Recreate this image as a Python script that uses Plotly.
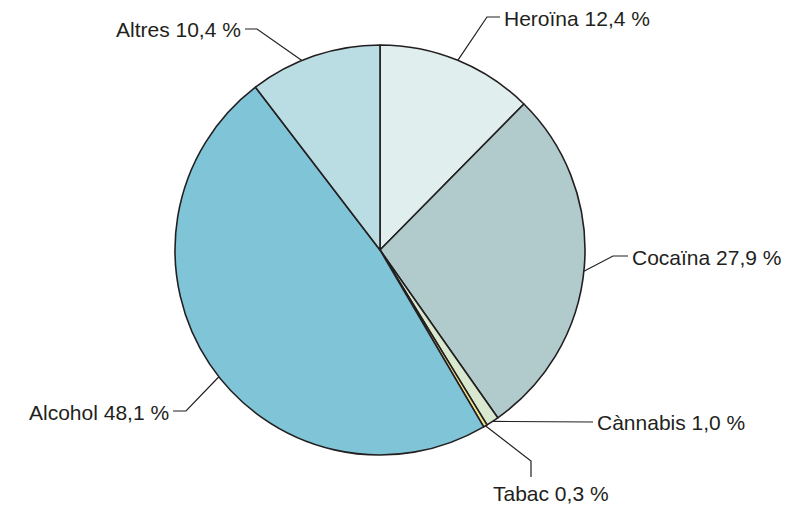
import math
import plotly.graph_objects as go

# ---- data ----
categories = ["Heroïna", "Cocaïna", "Cànnabis", "Tabac", "Alcohol", "Altres"]
values = [12.4, 27.9, 1.0, 0.3, 48.1, 10.4]
value_labels = ["12,4 %", "27,9 %", "1,0 %", "0,3 %", "48,1 %", "10,4 %"]
colors = ["#e1eeee", "#b1cacb", "#d9e9d0", "#f2e48a", "#80c4d8", "#badce3"]

# ---- layout / style (coordinates in window pixels) ----
W, H = 792, 509
OFF = 8  # default page body margin
FW, FH = W - OFF, H - OFF
CX, CY, R = 380, 250, 205
LINE = "#231f20"
FONT = dict(family="Liberation Sans, Arial, Helvetica, sans-serif", size=21, color="#231f20")

# leader styling: angular nudge (deg) of the attach point, elbow, end, text anchor
leaders = {
    "Heroïna": dict(nudge=0, elbow=(487, 17), end=(500, 17), text=(502, 18), xanchor="left"),
    "Cocaïna": dict(nudge=1.2, elbow=(613, 256), end=(628, 256), text=(630, 257), xanchor="left"),
    "Cànnabis": dict(nudge=0, elbow=None, end=(593, 422), text=(595, 422), xanchor="left"),
    "Tabac": dict(nudge=0, elbow=(531, 461), end=(531, 477), text=(551, 493), xanchor="center"),
    "Alcohol": dict(nudge=-4.3, elbow=(186, 411), end=(173, 411), text=(171, 412), xanchor="right"),
    "Altres": dict(nudge=-3.7, elbow=(257, 29), end=(245, 29), text=(243, 29), xanchor="right"),
}

fig = go.Figure()
fig.add_trace(go.Pie(
    labels=categories, values=values, sort=False, direction="clockwise", rotation=0,
    marker=dict(colors=colors, line=dict(color=LINE, width=1.6)),
    textinfo="none", hoverinfo="label+percent", showlegend=False,
    domain=dict(x=[(CX - R - OFF) / FW, (CX + R - OFF) / FW],
                y=[(H - CY - R) / FH, (H - CY + R) / FH]),
))

total = sum(values)
cum = 0.0
annotations = []
for cat, v, lab in zip(categories, values, value_labels):
    L = leaders[cat]
    mid = (cum + v / 2) / total * 2 * math.pi + math.radians(L["nudge"])
    cum += v
    ex, ey = CX + R * math.sin(mid), CY - R * math.cos(mid)
    xs, ys = [ex], [ey]
    if L["elbow"]:
        xs.append(L["elbow"][0]); ys.append(L["elbow"][1])
    xs.append(L["end"][0]); ys.append(L["end"][1])
    fig.add_trace(go.Scatter(x=xs, y=ys, mode="lines", line=dict(color=LINE, width=1.2),
                             hoverinfo="skip", showlegend=False, cliponaxis=False))
    annotations.append(dict(x=L["text"][0], y=L["text"][1], xref="x", yref="y",
                            text=f"{cat} {lab}", showarrow=False, font=FONT,
                            xanchor=L["xanchor"], yanchor="middle"))

fig.update_layout(
    width=FW, height=FH, margin=dict(l=0, r=0, t=0, b=0),
    paper_bgcolor="white", plot_bgcolor="rgba(0,0,0,0)",
    xaxis=dict(range=[OFF, W], visible=False, fixedrange=True),
    yaxis=dict(range=[H, OFF], visible=False, fixedrange=True),
    annotations=annotations, showlegend=False,
)
fig.write_html("out.html")
